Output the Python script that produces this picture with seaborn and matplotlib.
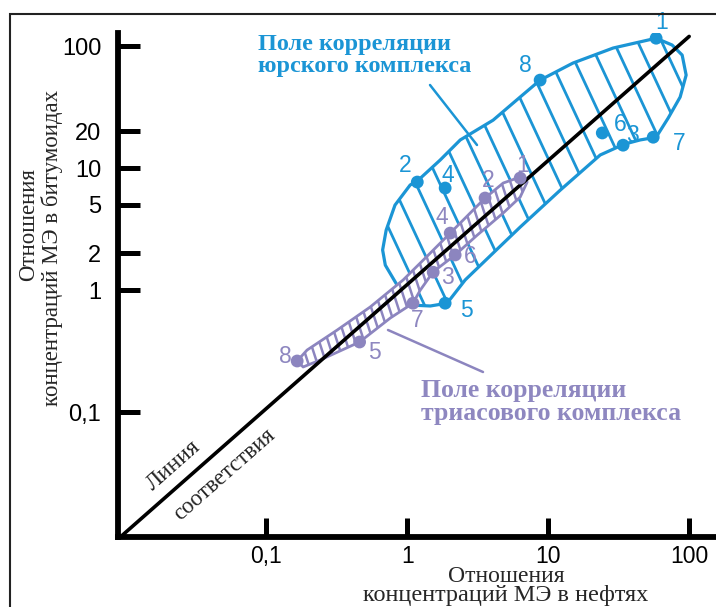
import matplotlib

matplotlib.use("Agg")

import matplotlib.pyplot as plt
import numpy as np
import pandas as pd
import seaborn as sns
from matplotlib.collections import LineCollection
from matplotlib.lines import Line2D
from matplotlib.patches import Polygon, Rectangle
from matplotlib.transforms import IdentityTransform

# --- data --------------------------------------------------------------
point_labels = ["1", "2", "3", "4", "5", "6", "7", "8"]

# Jurassic complex points (oil ratio, bitumoid ratio)
jur_x = [58.3, 1.18, 34.0, 1.86, 1.86, 24.2, 55.6, 8.77]
jur_y = [116, 7.68, 15.4, 6.86, 0.78, 19.4, 17.9, 52.6]

# Triassic complex points
tri_x = [6.33, 3.57, 1.53, 2.02, 0.46, 2.19, 1.10, 0.166]
tri_y = [8.28, 5.68, 1.40, 2.93, 0.375, 1.94, 0.78, 0.262]

# outline of the Jurassic correlation field
jur_field_x = [1.20, 1.71, 2.38, 4.07, 6.33, 8.77, 15.0, 28.9, 58.3, 75.7, 89.2,
               95.2, 86.3, 71.0, 58.3, 44.9, 34.6, 23.4, 12.2, 6.33, 4.07, 2.58,
               1.92, 1.46, 1.14, 0.89, 0.70, 0.67, 0.71, 0.82, 1.05]
jur_field_y = [7.97, 11.6, 17.0, 24.7, 38.2, 52.6, 72.6, 96.4, 116, 102, 84.4,
               57.8, 38.2, 25.7, 17.9, 17.0, 15.7, 12.8, 6.6, 3.28, 2.01, 1.21,
               0.78, 0.74, 0.75, 1.0, 1.60, 2.13, 3.10, 4.97, 7.26]

# outline of the Triassic correlation field
tri_field_x = [0.166, 0.195, 0.319, 0.547, 0.937, 1.46, 2.02, 2.80, 3.57, 4.80,
               6.33, 7.10, 6.33, 4.80, 3.14, 2.19, 1.53, 1.24, 1.10, 0.76, 0.46,
               0.242, 0.183]
tri_field_y = [0.262, 0.322, 0.470, 0.726, 1.21, 2.01, 2.93, 4.28, 5.68, 7.54,
               8.44, 7.68, 5.78, 4.28, 2.82, 1.94, 1.41, 1.0, 0.78, 0.59, 0.375,
               0.267, 0.234]

# line of correspondence
diag_x = [0.0092, 100]
diag_y = [0.0094, 120]

x_ticks = [0.1, 1, 10, 100]
x_tick_labels = ["0,1", "1", "10", "100"]
y_ticks = [0.1, 1, 2, 5, 10, 20, 100]
y_tick_labels = ["0,1", "1", "2", "5", "10", "20", "100"]

# --- styling --------------------------------------------------------------
BLUE = "#1b95d5"
PURPLE = "#8c85bf"
PURPLE_TXT = "#8e87c0"
W, H = 716, 607

# label offsets in pixels (dx right, dy up)
jur_offsets = [(6, 16), (-12, 17), (9, 10), (3, 13), (21, -7), (18, 8), (26, -6), (-15, 15)]
tri_offsets = [(2, 13), (3, 18), (14, -5), (-8, 16), (15, -10), (15, -2), (4, -17), (-12, 4)]


def fpx(x, y):
    return x / W, 1 - y / H


def hatch(ax, patch, spacing, angle, color, lw, zorder):
    d = np.array([np.cos(np.radians(angle)), -np.sin(np.radians(angle))])
    segs = []
    for x0 in np.arange(-800, 1600, spacing):
        c = np.array([x0, 303.0])
        segs.append([c - d * 1200, c + d * 1200])
    lc = LineCollection(segs, colors=color, linewidths=lw, transform=IdentityTransform(),
                        zorder=zorder, capstyle="butt")
    ax.add_collection(lc, autolim=False)
    lc.set_clip_path(patch)


sns.set_style("white")
plt.rcParams["font.family"] = ["Liberation Sans", "DejaVu Sans"]

fig = plt.figure(figsize=(W / 100, H / 100), dpi=100)
ax = fig.add_axes([118 / W, 70 / H, 598 / W, 504 / H])
ax.set_xscale("log")
ax.set_yscale("log")
ax.set_xlim(0.0089, 155)
ax.set_ylim(0.00945, 128)

# Jurassic field
jur_poly = Polygon(np.column_stack([jur_field_x, jur_field_y]), closed=True,
                   facecolor="none", edgecolor=BLUE, lw=2.3, zorder=2.5, joinstyle="round")
ax.add_patch(jur_poly)
hatch(ax, jur_poly, 24, 65, BLUE, 2.0, 2)

# Triassic field
tri_fill = Polygon(np.column_stack([tri_field_x, tri_field_y]), closed=True,
                   facecolor="white", edgecolor="none", zorder=3)
ax.add_patch(tri_fill)
hatch(ax, tri_fill, 9, 72, PURPLE, 1.8, 3.5)
tri_edge = Polygon(np.column_stack([tri_field_x, tri_field_y]), closed=True,
                   facecolor="none", edgecolor=PURPLE, lw=2.0, zorder=4, joinstyle="round")
ax.add_patch(tri_edge)

sns.lineplot(x=diag_x, y=diag_y, color="black", lw=2.6, estimator=None, ax=ax, zorder=5)

points = pd.DataFrame({
    "x": jur_x + tri_x,
    "y": jur_y + tri_y,
    "complex": ["jur"] * len(jur_x) + ["tri"] * len(tri_x),
})
sns.scatterplot(data=points, x="x", y="y", hue="complex",
                palette={"jur": BLUE, "tri": PURPLE}, s=85, edgecolor="none",
                legend=False, ax=ax, zorder=6)

for lab, x, y, off in zip(point_labels, jur_x, jur_y, jur_offsets):
    ax.annotate(lab, (x, y), xytext=off, textcoords="offset pixels", ha="center",
                va="center", color=BLUE, fontsize=16.5, zorder=7)
for lab, x, y, off in zip(point_labels, tri_x, tri_y, tri_offsets):
    ax.annotate(lab, (x, y), xytext=off, textcoords="offset pixels", ha="center",
                va="center", color=PURPLE_TXT, fontsize=16.5, zorder=7)

# axes and ticks
for side in ["top", "right"]:
    ax.spines[side].set_visible(False)
for side in ["left", "bottom"]:
    ax.spines[side].set_linewidth(4.2)
    ax.spines[side].set_color("black")
ax.set_xticks(x_ticks)
ax.set_xticklabels(x_tick_labels)
ax.set_yticks(y_ticks)
ax.set_yticklabels(y_tick_labels)
ax.minorticks_off()
ax.tick_params(axis="both", which="major", direction="in", width=3.6, colors="black",
               labelsize=17, left=True, bottom=True)
ax.tick_params(axis="y", length=16, pad=12)
ax.tick_params(axis="x", length=14, pad=6, labelsize=16.5)
ax.set_xlabel("")
ax.set_ylabel("")
ax.grid(False)

serif = ["Liberation Serif", "DejaVu Serif"]

# axis titles
fig.text(*fpx(506, 582), "Отношения", ha="center", va="baseline", fontsize=17, family=serif)
fig.text(*fpx(506, 601), "концентраций МЭ в нефтях", ha="center", va="baseline",
         fontsize=17.5, family=serif)
fig.text(*fpx(29, 225), "Отношения", ha="center", va="center", rotation=90,
         fontsize=16.5, family=serif)
fig.text(*fpx(52, 248), "концентраций МЭ в битумоидах", ha="center", va="center",
         rotation=90, fontsize=16.5, family=serif)

# field captions
fig.text(*fpx(258, 50), "Поле корреляции", ha="left", va="baseline", color=BLUE,
         fontsize=17.5, fontweight="bold", family=serif)
fig.text(*fpx(258, 72), "юрского комплекса", ha="left", va="baseline", color=BLUE,
         fontsize=17.5, fontweight="bold", family=serif)
fig.text(*fpx(421, 397), "Поле корреляции", ha="left", va="baseline", color=PURPLE_TXT,
         fontsize=18.5, fontweight="bold", family=serif)
fig.text(*fpx(421, 420), "триасового комплекса", ha="left", va="baseline",
         color=PURPLE_TXT, fontsize=18.5, fontweight="bold", family=serif)

fig.add_artist(Line2D(*zip(fpx(430, 85), fpx(477, 145)), transform=fig.transFigure,
                      color=BLUE, lw=1.8))
fig.add_artist(Line2D(*zip(fpx(388, 330), fpx(483, 372)), transform=fig.transFigure,
                      color=PURPLE, lw=1.8))

# line of correspondence caption
fig.text(*fpx(173, 465), "Линия", ha="center", va="center", rotation=41.4,
         rotation_mode="anchor", fontsize=17, family=serif)
fig.text(*fpx(224, 475), "соответствия", ha="center", va="center", rotation=41.4,
         rotation_mode="anchor", fontsize=16.5, family=serif)

# picture frame
fig.add_artist(Rectangle((10 / W, -0.2), 1.2, 1.2 - 14 / H, transform=fig.transFigure,
                         fill=False, edgecolor="#222222", lw=1.5))

fig.savefig("out.png", dpi=100)
